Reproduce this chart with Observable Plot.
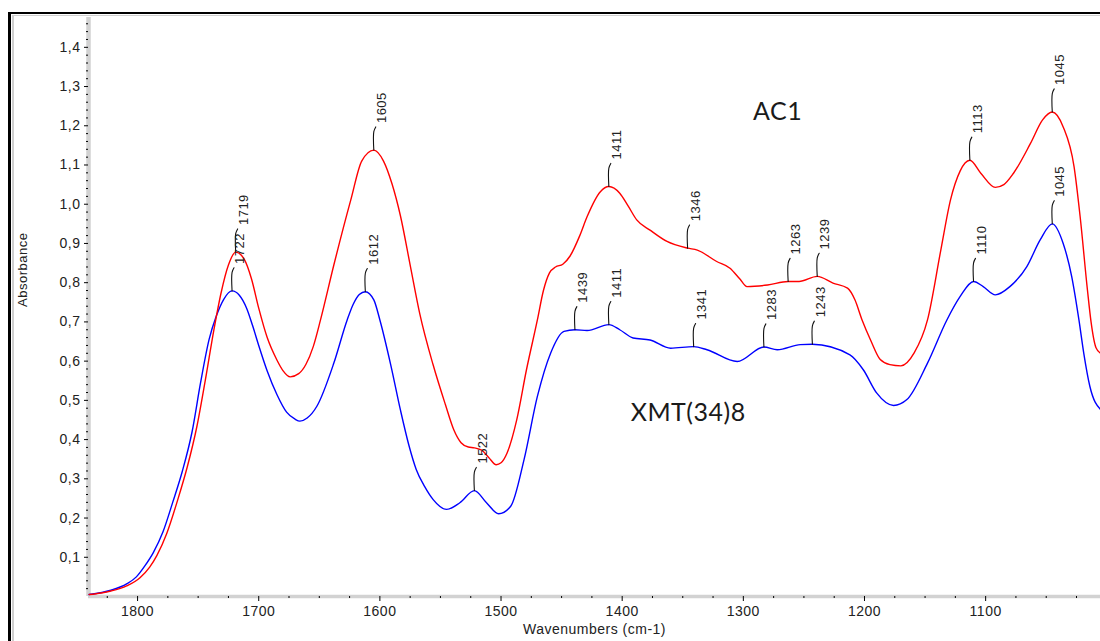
<!DOCTYPE html>
<html>
<head>
<meta charset="utf-8">
<script src="https://cdn.jsdelivr.net/npm/d3@7"></script>
<script src="https://cdn.jsdelivr.net/npm/@observablehq/plot@0.6"></script>
<style>
  html, body { margin: 0; padding: 0; background: #fff; overflow: hidden; }
  #wrap { position: relative; width: 1100px; height: 641px; }
  #chart { position: absolute; left: 0; top: 0; }
  .frame1 { position: absolute; left: 8px; top: 12px; width: 1200px; height: 800px;
            border-left: 3px solid #000; border-top: 2px solid #000; pointer-events: none; }
  .frame2 { position: absolute; left: 12px; top: 15px; width: 1200px; height: 800px;
            border-left: 2px solid #cfcfcf; border-top: 1px solid #cfcfcf; pointer-events: none; }
  #chart svg text { letter-spacing: 0.5px; }
  #chart svg g[aria-label="series label"] text { letter-spacing: 0; }
</style>
</head>
<body>
<div id="wrap">
  <div id="chart"></div>
  <div class="frame1"></div>
  <div class="frame2"></div>
</div>
<script>
// ---- Data ----
const acWave = [1840,1830,1822,1809,1798,1790,1784,1776,1767,1759,1751,1744,1737,1731,1725,1719,1712,1706,1700,1693,
  1685,1680,1674,1667,1661,1655,1649,1638,1624,1615,1605,1597,1590,1583,1575,1567,1556,1546,1539,1533,
  1527,1522,1516,1510,1504,1500,1495,1487,1479,1470,1465,1460,1455,1449,1443,1435,1429,1418,1411,1402,
  1395,1388,1377,1363,1346,1338,1322,1311,1303,1297,1280,1263,1254,1239,1226,1214,1208,1202,1195,1187,
  1179,1170,1159,1148,1137,1129,1121,1117,1113,1104,1092,1085,1077,1063,1053,1045,1036,1027,1022,1016,
  1013,1009,1005];
const acAbs = [0.005,0.009,0.014,0.027,0.048,0.075,0.105,0.160,0.245,0.330,0.434,0.553,0.680,0.775,0.845,0.878,0.860,0.810,0.735,0.660,
  0.603,0.576,0.560,0.568,0.592,0.637,0.705,0.845,1.011,1.110,1.138,1.110,1.052,0.970,0.845,0.720,0.590,0.490,0.425,0.392,
  0.381,0.379,0.373,0.354,0.336,0.341,0.366,0.451,0.578,0.705,0.780,0.825,0.840,0.847,0.868,0.920,0.968,1.032,1.045,1.028,
  0.995,0.960,0.934,0.905,0.888,0.883,0.854,0.837,0.810,0.790,0.794,0.803,0.803,0.816,0.799,0.786,0.757,0.705,0.654,0.604,
  0.591,0.588,0.621,0.705,0.883,1.011,1.085,1.105,1.112,1.079,1.043,1.050,1.079,1.155,1.215,1.235,1.197,1.095,0.968,0.782,
  0.700,0.635,0.620];

const xmtWave = [1840,1822,1809,1801,1794,1787,1779,1771,1763,1755,1748,1741,1735,1729,1722,1716,1710,1705,1700,1693,
  1685,1677,1670,1666,1660,1652,1638,1627,1622,1617,1612,1605,1600,1591,1583,1576,1570,1563,1556,1545,
  1534,1522,1512,1502,1492,1481,1470,1459,1448,1439,1429,1411,1402,1391,1377,1360,1341,1330,1305,1283,
  1272,1253,1243,1212,1201,1190,1176,1165,1148,1132,1121,1110,1102,1092,1080,1066,1055,1045,1036,1029,
  1023,1019,1014,1005];
const xmtAbs = [0.005,0.016,0.032,0.050,0.078,0.112,0.165,0.240,0.320,0.420,0.545,0.655,0.715,0.757,0.779,0.768,0.735,0.690,0.640,0.575,
  0.515,0.470,0.452,0.447,0.455,0.485,0.595,0.705,0.745,0.770,0.777,0.756,0.705,0.590,0.475,0.385,0.324,0.280,0.247,0.222,
  0.239,0.270,0.239,0.211,0.230,0.349,0.510,0.621,0.676,0.680,0.678,0.693,0.680,0.659,0.654,0.633,0.637,0.629,0.599,0.636,
  0.629,0.642,0.643,0.616,0.578,0.519,0.487,0.502,0.595,0.705,0.765,0.803,0.790,0.769,0.790,0.841,0.909,0.950,0.900,0.816,
  0.705,0.620,0.536,0.476];

const acPeakWave = [1719,1605,1411,1346,1263,1239,1113,1045];
const acPeakAbs  = [0.878,1.138,1.045,0.888,0.803,0.816,1.112,1.235];
const xmtPeakWave = [1722,1612,1522,1439,1411,1341,1283,1243,1110,1045];
const xmtPeakAbs  = [0.779,0.777,0.270,0.680,0.693,0.637,0.636,0.643,0.803,0.950];

const seriesNames = ["AC1", "XMT(34)8"];
const seriesLabelWave = [1292, 1393];
const seriesLabelAbs = [1.214, 0.447];

const xTicks = [1800,1700,1600,1500,1400,1300,1200,1100];
const yTicks = [0.1,0.2,0.3,0.4,0.5,0.6,0.7,0.8,0.9,1.0,1.1,1.2,1.3,1.4];

// ---- Build tables ----
const ac = acWave.map((w, i) => ({w, v: acAbs[i]}));
const xmt = xmtWave.map((w, i) => ({w, v: xmtAbs[i]}));
const peaks = [
  ...acPeakWave.map((w, i) => ({w, v: acPeakAbs[i]})),
  ...xmtPeakWave.map((w, i) => ({w, v: xmtPeakAbs[i]}))
];
const stem = 0.047, hookUp = 0.012, hookSide = 1.6;
const hooks = peaks.flatMap((p, i) => [
  {id: i, w: p.w, v: p.v},
  {id: i, w: p.w, v: p.v + stem},
  {id: i, w: p.w - hookSide, v: p.v + stem + hookUp}
]);
const labels = seriesNames.map((name, i) => ({name, w: seriesLabelWave[i], v: seriesLabelAbs[i]}));

const xDomain = [1840.5, 1005.2];
const yDomain = [0, 1.476];
const xMinor = d3.range(1825, 1005, -25).filter(d => d % 100 !== 0);
const yMinor = d3.range(1, 74).map(i => +(i * 0.02).toFixed(2)).filter(d => Math.round(d * 100) % 10 !== 0);

const chart = Plot.plot({
  width: 1100,
  height: 641,
  marginLeft: 88,
  marginRight: 0,
  marginTop: 17,
  marginBottom: 45,
  style: {fontFamily: "'Liberation Sans', Arial, sans-serif", fontSize: "14px", color: "#222", background: "transparent"},
  x: {domain: xDomain},
  y: {domain: yDomain},
  marks: [
    Plot.ruleX([xDomain[0]], {stroke: "#d2d2d2", strokeWidth: 4.5}),
    Plot.ruleY([yDomain[0]], {stroke: "#d2d2d2", strokeWidth: 3.5}),
    Plot.axisY({ticks: yMinor, tickSize: 2, tickFormat: () => "", label: null, stroke: "#000"}),
    Plot.axisY({ticks: yTicks, tickSize: 4, tickPadding: 4, label: null, stroke: "#000",
      tickFormat: d => d.toFixed(1).replace(".", ",")}),
    Plot.axisX({ticks: xMinor, tickSize: 2, tickFormat: () => "", label: null, stroke: "#000"}),
    Plot.axisX({ticks: xTicks, tickSize: 5, tickPadding: 5, label: null, stroke: "#000",
      tickFormat: d => String(d)}),
    Plot.text(["Wavenumbers (cm-1)"], {text: d => d, frameAnchor: "bottom", dy: 37, fontSize: 14}),
    Plot.text(["Absorbance"], {text: d => d, frameAnchor: "left", dx: -66, rotate: -90, fontSize: 13}),
    Plot.line(xmt, {x: "w", y: "v", stroke: "#0000ff", strokeWidth: 1.4, curve: "monotone-x"}),
    Plot.line(ac, {x: "w", y: "v", stroke: "#ff0000", strokeWidth: 1.4, curve: "monotone-x"}),
    Plot.line(hooks, {x: "w", y: "v", z: "id", stroke: "#111", strokeWidth: 1.1, curve: "catmull-rom"}),
    Plot.text(peaks, {x: "w", y: "v", text: d => String(d.w), rotate: -90, textAnchor: "start",
      dx: 8, dy: -27, fontSize: 13, fill: "#222"}),
    Plot.text(labels, {x: "w", y: "v", text: "name", textAnchor: "start", lineAnchor: "bottom",
      fontSize: 25, fontFamily: "Lato, 'Open Sans', sans-serif", fill: "#1a1a1a", ariaLabel: "series label"})
  ]
});
document.getElementById("chart").appendChild(chart);
</script>
</body>
</html>
